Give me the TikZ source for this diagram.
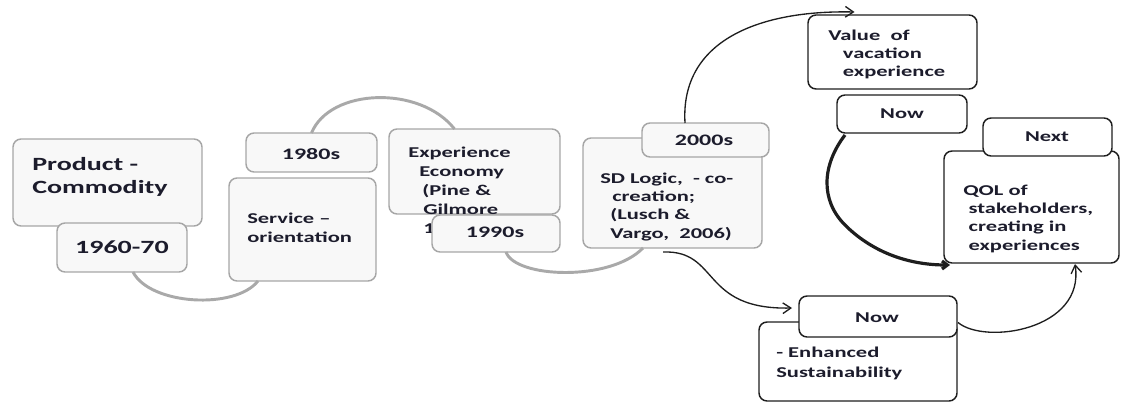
\documentclass[tikz,border=0pt]{standalone}
\usepackage{fontspec}
\newfontfamily\cf{Carlito}[FakeStretch=1.5]
\usetikzlibrary{calc,arrows.meta}
\definecolor{gbd}{HTML}{A6A6A6}
\definecolor{gfill}{HTML}{F8F8F8}
\definecolor{tx}{HTML}{1C1C2C}
\definecolor{arcg}{HTML}{A9A9A9}
\definecolor{kline}{HTML}{1E1E1E}
\newcommand\bx[6]{\node[#1, minimum width={(#5-#3)*0.75pt}, minimum height={(#6-#4)*0.75pt}] (#2) at ({(#3+#5)/2},{(#4+#6)/2}) {};}
\begin{document}
\begin{tikzpicture}[x=0.75pt,y=-0.75pt,
  gbox/.style={draw=gbd, fill=gfill, line width=1.1pt, rounded corners=6pt, inner sep=0pt, outer sep=0pt},
  kbox/.style={draw=kline, fill=white, line width=1.1pt, rounded corners=6pt, inner sep=0pt, outer sep=0pt},
  txt/.style={font=\cf\bfseries\fontsize{11.25}{13.6}\selectfont, text=tx, inner sep=0pt, align=left, anchor=base west},
  big/.style={font=\cf\bfseries\fontsize{14}{17.25}\selectfont},
  yr/.style={font=\cf\bfseries\fontsize{12}{14}\selectfont, text=tx, inner sep=0pt, anchor=base},
  garc/.style={draw=arcg, line width=2.2pt},
  karc/.style={draw=kline, line width=1pt},
  tip/.style={-{Straight Barb[length=6pt,width=8pt]}},
]
\useasboundingbox (0,0) rectangle (1121,403);

% Product - Commodity
\bx{gbox}{prod}{13}{139}{202}{226}
\node[txt,big] (tprod) at (32,193) {Product -\\Commodity};
\bx{gbox}{y60}{57}{223}{187}{272}
\node[yr,big] (t60) at (122,253) {1960-70};

% Service
\bx{gbox}{serv}{229}{178}{376}{281}
\node[txt,font=\cf\bfseries\fontsize{11.25}{14.2}\selectfont] (tserv) at (247,242) {Service –\\orientation};
\bx{gbox}{y80}{246}{133}{377}{172}
\node[yr] (t80) at (311,159) {1980s};

% Experience economy
\bx{gbox}{expe}{389}{129}{560}{214}
\node[txt,font=\cf\bfseries\fontsize{11.25}{14.2}\selectfont] (texp) at (408,233) {Experience\\\hspace*{8.25pt}Economy\\\hspace*{10.5pt}(Pine \&\\\hspace*{11.25pt}Gilmore\\\hspace*{11.25pt}1999)};
\bx{gbox}{y90}{432}{215}{560}{252}
\node[yr] (t90) at (495,237) {1990s};

% SD logic
\bx{gbox}{sd}{583}{138}{762}{248}
\node[txt] (tsd) at (600,238) {SD Logic,\ \ - co-\\\hspace*{9pt}creation;\\\hspace*{7.5pt}(Lusch \&\\\hspace*{7.5pt}Vargo,\ \ 2006)};
\bx{gbox}{y00}{642}{123}{769}{157}
\node[yr] (t00) at (704,145) {2000s};

% Value of vacation experience
\bx{kbox}{val}{808}{15}{977}{89}
\node[txt] (tval) at (828,77) {Value\ \ of\\\hspace*{11pt}vacation\\\hspace*{11pt}experience};
\bx{kbox}{nowa}{837}{95}{967}{133}
\node[yr,font=\cf\bfseries\fontsize{11.25}{13}\selectfont] (tnowa) at (902,118) {Now};

% QOL
\bx{kbox}{qol}{944}{151}{1119}{263}
\node[txt] (tqol) at (963,250) {QOL of\\\hspace*{4pt}stakeholders,\\\hspace*{4pt}creating in\\\hspace*{4pt}experiences};
\bx{kbox}{next}{983}{118}{1112}{156}
\node[yr,font=\cf\bfseries\fontsize{11.25}{13}\selectfont] (tnext) at (1047,142) {Next};

% Enhanced sustainability
\bx{kbox}{enh}{759}{322}{957}{401}
\node[txt,font=\cf\bfseries\fontsize{11.25}{15}\selectfont] (tenh) at (776,377) {- Enhanced\\Sustainability};
\bx{kbox}{nowb}{799}{296}{957}{337}
\node[yr,font=\cf\bfseries\fontsize{11.25}{13}\selectfont] (tnowb) at (877,322) {Now};

% connectors
\draw[garc] ($(y60.south)+(11,0)$) .. controls (150,305) and (235,310) .. ($(serv.south west)+(29,0)$);
\draw[garc] (y80.north) .. controls (330,88) and (420,85) .. ($(expe.north)+(-20,0)$);
\draw[garc] ($(y90.south)+(10,0)$) .. controls (515,278) and (610,282) .. ($(sd.south west)+(60,0)$);
\draw[karc,tip] ($(y00.north west)+(43,0)$) .. controls (680,40) and (760,10) .. ($(val.north)+(-38,-3)$);
\draw[draw=kline,line width=2.4pt,-{Straight Barb[length=4pt,width=6pt]}] ($(nowa.south west)+(8,2)$) .. controls (822,165) and (820,200) .. (845,225) .. controls (870,250) and (905,265) .. ($(qol.south west)+(6,2)$);
\draw[karc,tip] ($(sd.south)+(-9.5,4)$) .. controls (720,250) and (700,310) .. ($(nowb.west)+(-7,-8.5)$);
\draw[karc,tip] ($(nowb.east)+(1,6)$) .. controls (985,345) and (1085,330) .. ($(qol.south west)+(131,1)$);
\end{tikzpicture}
\end{document}
